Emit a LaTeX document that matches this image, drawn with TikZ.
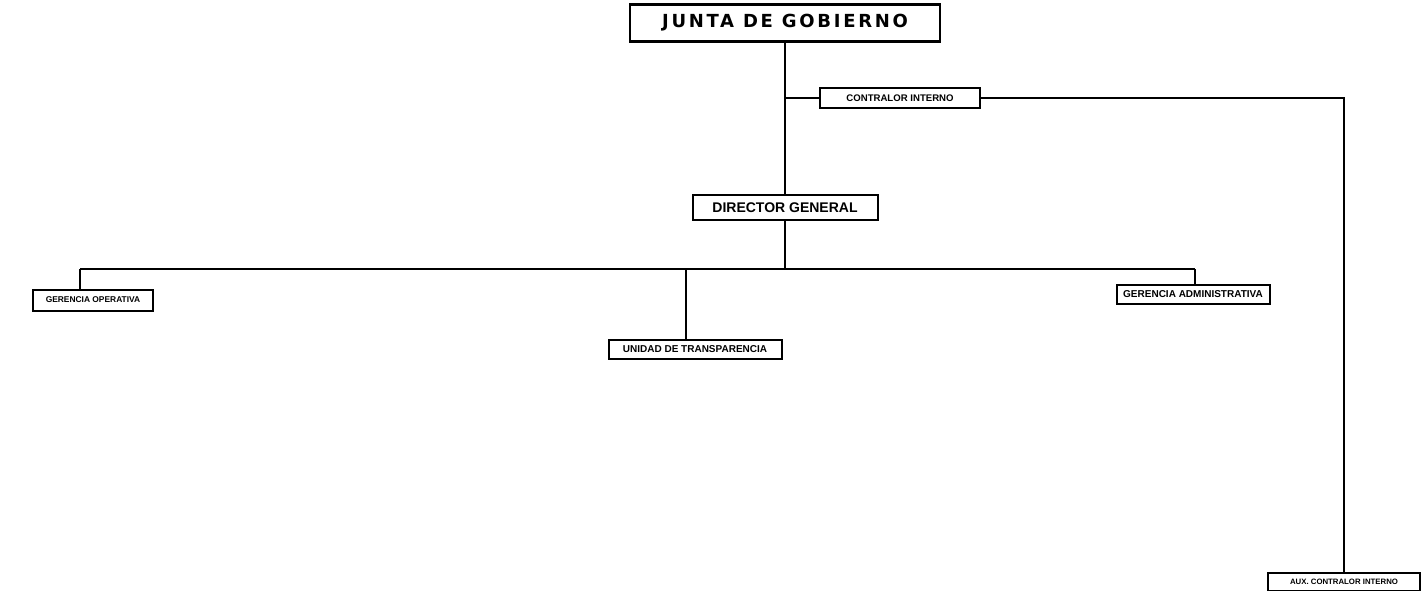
\documentclass[tikz,border=0pt]{standalone}
\usepackage{fontspec}
\setmainfont{Liberation Sans}
\newfontfamily\headfont{DejaVu Sans}[LetterSpace=15]
\usetikzlibrary{positioning}
\tikzset{
  unit/.style={draw, line width=1pt, fill=white, inner sep=1pt, font=\bfseries},
  bigunit/.style={unit, line width=1.2pt, font=\headfont\bfseries\fontsize{9}{10}\selectfont},
  link/.style={line width=0.9pt}
}
\begin{document}
\begin{tikzpicture}[x=0.5pt,y=-0.5pt]
  \useasboundingbox (0,0) rectangle (1422,590);
  % boxes
  \node[bigunit, minimum width=155pt, minimum height=18.5pt] (junta) at (785,23) {JUNTA DE GOBIERNO};
  \node[unit, minimum width=80pt, minimum height=10pt, font=\bfseries\fontsize{4.8}{5}\selectfont] (contralor) at (900,98) {CONTRALOR INTERNO};
  \node[unit, minimum width=92.5pt, minimum height=12.5pt, font=\bfseries\fontsize{7}{8}\selectfont] (director) at (785,207.5) {DIRECTOR GENERAL};
  \node[unit, minimum width=60pt, minimum height=10.5pt, font=\bfseries\fontsize{4.2}{5}\selectfont] (operativa) at (93,300) {GERENCIA OPERATIVA};
  \node[unit, minimum width=86.5pt, minimum height=9.5pt, font=\bfseries\fontsize{5}{6}\selectfont] (transparencia) at (695,349) {UNIDAD DE TRANSPARENCIA};
  \node[unit, minimum width=76.5pt, minimum height=9.5pt, font=\bfseries\fontsize{5}{6}\selectfont] (administrativa) at (1193,294) {GERENCIA ADMINISTRATIVA};
  \node[unit, minimum width=76pt, minimum height=9pt, font=\bfseries\fontsize{3.9}{5}\selectfont] (aux) at (1344,582) {AUX. CONTRALOR INTERNO};
  % connectors
  \coordinate (barL) at (80,269);
  \coordinate (barU) at (686,269);
  \coordinate (barR) at (1195,269);
  \draw[link] (junta.south) -- (director.north);
  \draw[link] (junta.south |- contralor.west) -- (contralor.west);
  \draw[link] (contralor.east) -| (aux.north);
  \draw[link] (director.south) -- (director.south |- barL);
  \draw[link] (barL) -- (barR);
  \draw[link] (barL) -- (barL |- operativa.north);
  \draw[link] (barU) -- (barU |- transparencia.north);
  \draw[link] (barR) -- (barR |- administrativa.north);
\end{tikzpicture}
\end{document}
